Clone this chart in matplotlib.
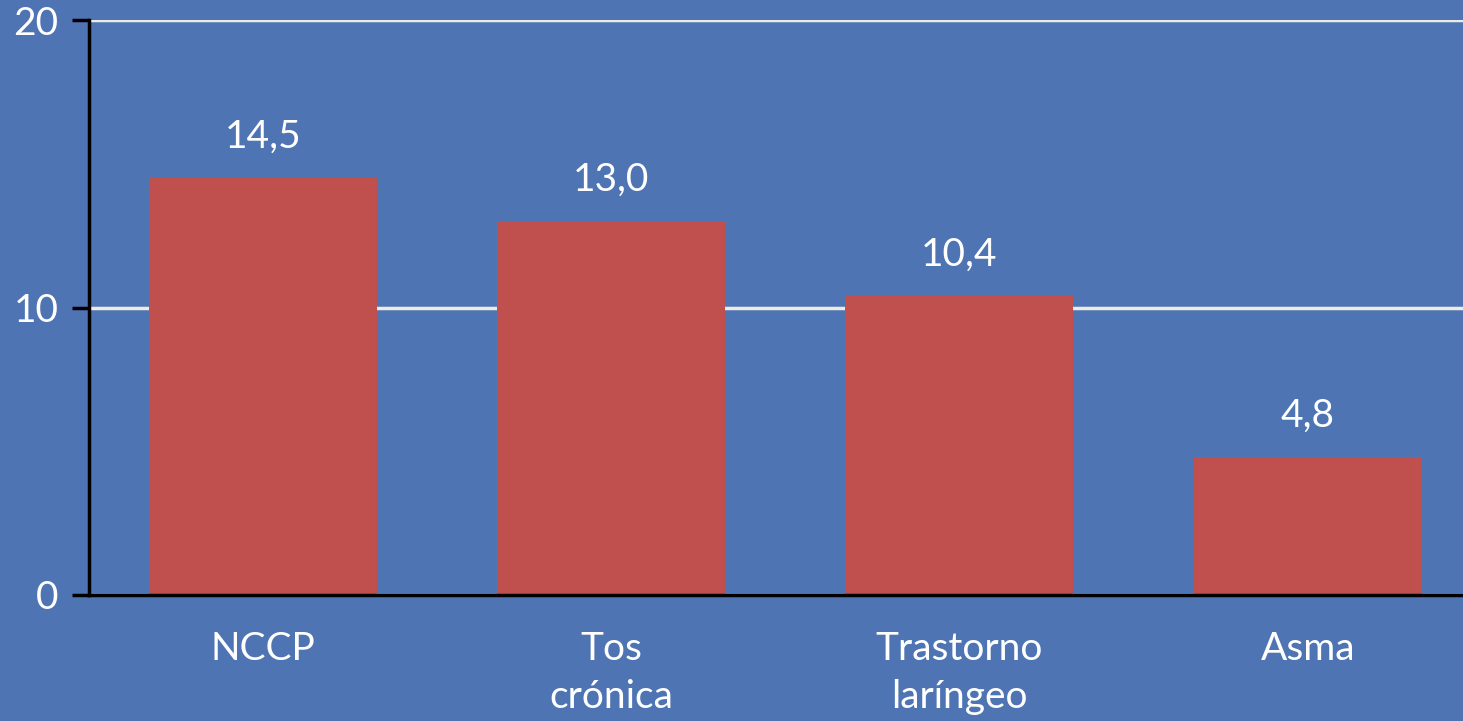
import matplotlib
matplotlib.use("Agg")
import matplotlib.pyplot as plt

categories = ["NCCP", "Tos\ncrónica", "Trastorno\nlaríngeo", "Asma"]
values = [14.5, 13.0, 10.4, 4.8]
value_labels = ["14,5", "13,0", "10,4", "4,8"]
y_ticks = [0, 10, 20]

BG = "#4E74B4"
BAR = "#C0504D"
GRID = "#EEECE1"
TEXT = "white"

plt.rcParams["font.family"] = ["Lato", "DejaVu Sans"]

fig = plt.figure(figsize=(14.63, 7.21), dpi=100, facecolor=BG)
ax = fig.add_axes([0.0608, 0.1748, 0.952, 0.797])
ax.set_facecolor(BG)

x = range(len(categories))
ax.bar(x, values, width=0.655, color=BAR, zorder=3)

for xi, v, lab in zip(x, values, value_labels):
    ax.annotate(lab, (xi, v), xytext=(0, 17), textcoords="offset points",
                ha="center", va="bottom", color=TEXT, fontsize=28)

ax.set_xlim(-0.5, 3.5)
ax.set_ylim(0, 20)
ax.set_yticks(y_ticks)
ax.set_yticklabels([str(t) for t in y_ticks])
ax.set_xticks(list(x))
ax.set_xticklabels(categories, linespacing=1.4)

ax.yaxis.grid(True, color=GRID, linewidth=2.5, zorder=1)
ax.xaxis.grid(False)
ax.set_axisbelow(True)

for side in ("top", "right"):
    ax.spines[side].set_visible(False)
for side in ("left", "bottom"):
    ax.spines[side].set_color("black")
    ax.spines[side].set_linewidth(2.5)
    ax.spines[side].set_zorder(4)

ax.tick_params(axis="x", length=0, pad=26, labelsize=28, labelcolor=TEXT)
ax.tick_params(axis="y", length=12, width=2.5, pad=10, labelsize=28,
               labelcolor=TEXT, direction="out")
for t, val in zip(ax.yaxis.get_major_ticks(), y_ticks):
    t.tick1line.set_color("black" if val == 0 else GRID)

fig.savefig("out.png", dpi=100, facecolor=BG)
